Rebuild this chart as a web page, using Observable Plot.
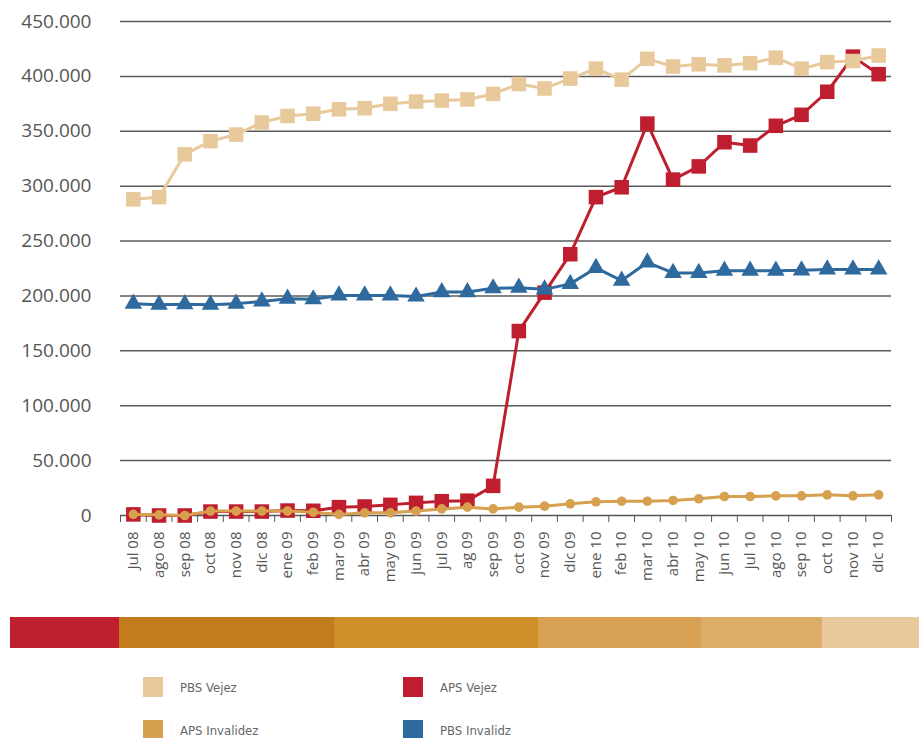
<!DOCTYPE html>
<html>
<head>
<meta charset="utf-8">
<script src="https://cdn.jsdelivr.net/npm/d3@7"></script>
<script src="https://cdn.jsdelivr.net/npm/@observablehq/plot@0.6"></script>
<style>
  html, body { margin: 0; padding: 0; background: #fff; }
  #wrap { position: relative; width: 919px; height: 738px; overflow: hidden; font-family: "Open Sans", sans-serif; }
  #chart { position: absolute; left: 0; top: 0; }
  #band { position: absolute; left: 10px; top: 617px; width: 909px; height: 31px; display: flex; }
  #band div { height: 100%; }
  .leg { position: absolute; display: flex; align-items: center; font-family: "Liberation Sans Narrow", "DejaVu Sans Condensed", sans-serif; font-size: 13px; color: #666; }
  .leg .sw { width: 20px; height: 20px; margin-right: 17px; }
</style>
</head>
<body>
<div id="wrap">
  <div id="chart"></div>
  <div id="band"></div>
  <div id="legend"></div>
</div>
<script>
const months = ["Jul 08","ago 08","sep 08","oct 08","nov 08","dic 08","ene 09","feb 09","mar 09","abr 09","may 09","jun 09","jul 09","ag 09","sep 09","oct 09","nov 09","dic 09","ene 10","feb 10","mar 10","abr 10","may 10","jun 10","jul 10","ago 10","sep 10","oct 10","nov 10","dic 10"];

const pbsVejez = [288000, 290000, 329000, 341000, 347000, 358000, 364000, 366000, 370000, 371000, 375000, 377000, 378000, 379000, 384000, 393000, 389000, 398000, 407000, 397000, 416000, 409000, 411000, 410000, 412000, 417000, 407000, 413000, 414000, 419000];
const apsVejez = [1000, 0, 0, 3600, 3600, 3600, 4500, 4300, 7600, 8200, 9700, 11500, 13000, 13500, 27000, 168000, 203000, 238000, 290000, 299000, 357000, 306000, 318000, 340000, 337000, 355000, 365000, 386000, 418000, 402000];
const pbsInvalidez = [193000, 192000, 192500, 192000, 193000, 195000, 197500, 197000, 200500, 200500, 200500, 199500, 203500, 203500, 207000, 207500, 206000, 211000, 225500, 214000, 230500, 221000, 221000, 223000, 223000, 223000, 223300, 224200, 224200, 224200];
const apsInvalidez = [1000, 600, 0, 4000, 4000, 4000, 4000, 3000, 1000, 2400, 2400, 4000, 6000, 7600, 6000, 7600, 8500, 10600, 12500, 13000, 13000, 13700, 15200, 17300, 17300, 17900, 17900, 18800, 17900, 18800];

const yTicks = [0, 50000, 100000, 150000, 200000, 250000, 300000, 350000, 400000, 450000];

const seriesNames = ["PBS Vejez", "APS Vejez", "APS Invalidez", "PBS Invalidz"];
const seriesColors = ["#E8C99B", "#BE1E2D", "#D6A04E", "#2E6A9E"];
const bandColors = ["#C01F2F", "#C17C1D", "#CF8E2A", "#D7A052", "#DBAD68", "#E8C99B"];
const bandShares = [109, 215, 204, 163, 121, 97];

const fmt = d3.formatLocale({decimal: ",", thousands: ".", grouping: [3], currency: ["", ""]}).format(",");

const toRows = (vals) => vals.map((v, i) => ({i, v}));
const idx = months.map((m, i) => i);
const edges = [...idx.map(i => i - 0.5), months.length - 0.5];

function series(vals, color, symbol, r) {
  const rows = toRows(vals);
  return [
    Plot.lineY(rows, {x: "i", y: "v", stroke: color, strokeWidth: 3}),
    Plot.dot(rows, {x: "i", y: "v", fill: color, symbol, r, stroke: "none"})
  ];
}

const chart = Plot.plot({
  width: 919,
  height: 600,
  marginLeft: 120,
  marginRight: 28,
  marginTop: 21,
  marginBottom: 85,
  style: {fontFamily: "'Open Sans', sans-serif", color: "#555", background: "transparent"},
  x: {domain: [-0.5, months.length - 0.5], axis: null},
  y: {domain: [0, 450000], axis: null},
  marks: [
    Plot.gridY({ticks: yTicks.filter(t => t > 0), stroke: "#5a5a5a", strokeOpacity: 1, strokeWidth: 1.5}),
    Plot.axisY({ticks: yTicks, tickFormat: fmt, tickSize: 0, tickPadding: 29, fontSize: 19, fill: "#555", label: null}),
    Plot.axisX({ticks: edges, tickFormat: () => "", tickSize: 7, stroke: "#555", label: null}),
    Plot.axisX({ticks: idx, tickFormat: i => months[i], tickSize: 0, tickPadding: 16, tickRotate: -90, fontSize: 15, fill: "#555", label: null}),
    Plot.ruleY([0], {stroke: "#555", strokeWidth: 1.5}),
    ...series(apsVejez, seriesColors[1], "square", 8.2),
    ...series(pbsInvalidez, seriesColors[3], "triangle", 6.5),
    ...series(apsInvalidez, seriesColors[2], "circle", 4.8),
    ...series(pbsVejez, seriesColors[0], "square", 8.2)
  ]
});
document.getElementById("chart").append(chart);

const band = document.getElementById("band");
bandColors.forEach((c, k) => {
  const d = document.createElement("div");
  d.style.background = c;
  d.style.flex = bandShares[k] + " 0 0";
  band.append(d);
});

const legend = document.getElementById("legend");
const legPos = [[143, 677], [403, 677], [143, 720], [403, 720]];
seriesNames.forEach((name, k) => {
  const item = document.createElement("div");
  item.className = "leg";
  item.style.left = legPos[k][0] + "px";
  item.style.top = legPos[k][1] + "px";
  const sw = document.createElement("div");
  sw.className = "sw";
  sw.style.background = seriesColors[k];
  const t = document.createElement("span");
  t.textContent = name;
  item.append(sw, t);
  legend.append(item);
});
</script>
</body>
</html>
